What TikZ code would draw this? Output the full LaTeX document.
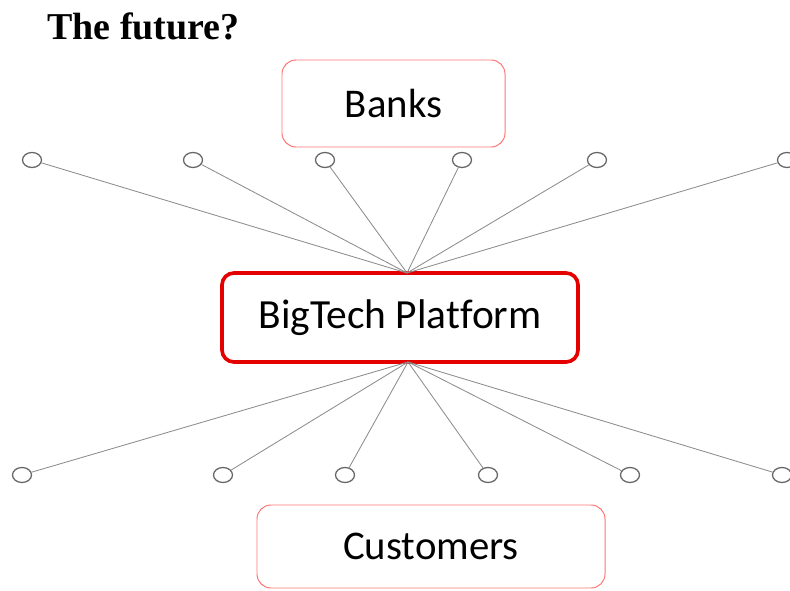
\documentclass[tikz,border=0pt]{standalone}
\usepackage{fontspec}
\newfontfamily\calibri{Carlito}[Ligatures=NoCommon]
\newfontfamily\titlefont{Liberation Serif}
\usetikzlibrary{shapes.geometric}
\usetikzlibrary{positioning}

\tikzset{
  endpt/.style={ellipse,draw=black!60,line width=0.9pt,minimum width=0.475cm,minimum height=0.375cm,inner sep=0pt,fill=white},
  spoke/.style={draw=black!45,line width=0.6pt},
  sidebox/.style={rectangle,rounded corners=0.35cm,draw=red!55,line width=0.7pt,font=\calibri\fontsize{29}{33}\selectfont},
  mainbox/.style={rectangle,rounded corners=0.3cm,draw=red!90!black,line width=2.6pt,font=\calibri\fontsize{29.5}{34}\selectfont}
}

\begin{document}
\begin{tikzpicture}
\useasboundingbox (0,0) rectangle (19.75,14.75);
\node[font=\titlefont\bfseries\fontsize{27}{31}\selectfont, anchor=base west, inner sep=0pt] (title) at (1.175, 13.75) {The future?};

\node[sidebox,minimum width=5.575cm,minimum height=2.175cm] (banks) at (9.8375, 12.1625) {Banks};
\node[mainbox,minimum width=8.9cm,minimum height=2.225cm] (big) at (10.0, 6.8125) {BigTech Platform};
\node[sidebox,minimum width=8.7cm,minimum height=2.075cm] (cust) at (10.775, 1.0875) {Customers};

\coordinate (hubT) at (10.175, 7.925);
\coordinate (hubB) at (10.2, 5.7);

% upper row
\node[endpt] (t1) at (0.8, 10.75) {};
\node[endpt] (t2) at (4.825, 10.75) {};
\node[endpt] (t3) at (8.125, 10.75) {};
\node[endpt] (t4) at (11.55, 10.75) {};
\node[endpt] (t5) at (14.925, 10.75) {};
\node[endpt] (t6) at (19.675, 10.75) {};
\draw[spoke] (t1) -- (hubT);
\draw[spoke] (t2) -- (hubT);
\draw[spoke] (t3) -- (hubT);
\draw[spoke] (t4) -- (hubT);
\draw[spoke] (t5) -- (hubT);
\draw[spoke] (t6) -- (hubT);

% lower row
\node[endpt] (b1) at (0.55, 2.875) {};
\node[endpt] (b2) at (5.575, 2.875) {};
\node[endpt] (b3) at (8.625, 2.875) {};
\node[endpt] (b4) at (12.2, 2.875) {};
\node[endpt] (b5) at (15.75, 2.875) {};
\node[endpt] (b6) at (19.55, 2.875) {};
\draw[spoke] (b1) -- (hubB);
\draw[spoke] (b2) -- (hubB);
\draw[spoke] (b3) -- (hubB);
\draw[spoke] (b4) -- (hubB);
\draw[spoke] (b5) -- (hubB);
\draw[spoke] (b6) -- (hubB);

\end{tikzpicture}
\end{document}
